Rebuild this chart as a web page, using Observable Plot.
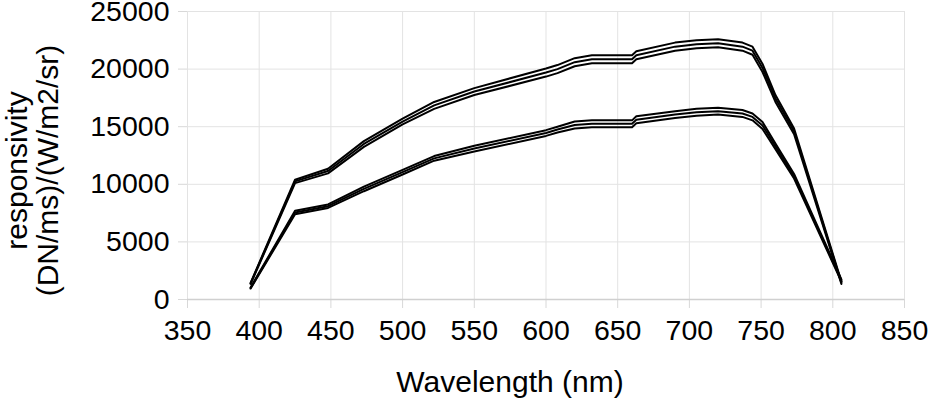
<!DOCTYPE html>
<html>
<head>
<meta charset="utf-8">
<script src="https://cdn.jsdelivr.net/npm/d3@7"></script>
<script src="https://cdn.jsdelivr.net/npm/@observablehq/plot@0.6"></script>
<style>
  html, body { margin: 0; padding: 0; background: #fff; }
</style>
</head>
<body>
<div id="chart"></div>
<script>
const xTicks = [350, 400, 450, 500, 550, 600, 650, 700, 750, 800, 850];
const yTicks = [0, 5000, 10000, 15000, 20000, 25000];

const wavelength = [394, 425, 448, 473, 500, 522, 550, 600, 608, 620, 632, 660, 663, 690, 705, 720, 737, 744, 751, 760, 773, 806];

const upperTop    = [1450, 10400, 11350, 13750, 15700, 17150, 18350, 20050, 20350, 20950, 21200, 21200, 21550, 22300, 22500, 22600, 22300, 21950, 20450, 17750, 14850, 1550];
const upperMid    = [1400, 10250, 11150, 13500, 15450, 16850, 18050, 19700, 20000, 20600, 20850, 20850, 21200, 21950, 22150, 22250, 21950, 21600, 20100, 17450, 14600, 1450];
const upperBottom = [1350, 10100, 10950, 13250, 15200, 16550, 17750, 19350, 19650, 20250, 20500, 20500, 20850, 21600, 21800, 21900, 21600, 21250, 19750, 17150, 14350, 1350];

const lowerTop    = [1050, 7700, 8250, 9800, 11250, 12450, 13350, 14700, 15000, 15450, 15550, 15550, 15900, 16350, 16550, 16650, 16450, 16150, 15400, 13550, 10900, 1750];
const lowerMid    = [1000, 7550, 8100, 9600, 11050, 12250, 13100, 14450, 14750, 15150, 15250, 15250, 15600, 16050, 16250, 16350, 16150, 15850, 15100, 13300, 10700, 1650];
const lowerBottom = [950, 7400, 7950, 9400, 10850, 12050, 12850, 14200, 14500, 14850, 14950, 14950, 15300, 15750, 15950, 16050, 15850, 15550, 14800, 13050, 10500, 1550];

const seriesList = [
  ["upperTop", upperTop], ["upperMid", upperMid], ["upperBottom", upperBottom],
  ["lowerTop", lowerTop], ["lowerMid", lowerMid], ["lowerBottom", lowerBottom]
];
const rows = seriesList.flatMap(([name, vals]) => wavelength.map((w, i) => ({series: name, wl: w, v: vals[i]})));

const FS = 28.5;
const TS = 30;
const chart = Plot.plot({
  width: 929,
  height: 401,
  marginLeft: 187,
  marginRight: 25,
  marginTop: 11,
  marginBottom: 102,
  style: {fontFamily: "'Liberation Sans', Arial, sans-serif", fontSize: FS + "px", color: "#000", background: "#fff"},
  x: {domain: [350, 850]},
  y: {domain: [0, 25000]},
  marks: [
    Plot.gridX(xTicks, {stroke: "#e3e3e3", strokeOpacity: 1, strokeWidth: 1}),
    Plot.gridY(yTicks, {stroke: "#e3e3e3", strokeOpacity: 1, strokeWidth: 1}),
    Plot.axisX(xTicks, {tickSize: 9, tickPadding: 11, stroke: "#d8d8d8", fontSize: FS, label: null, tickFormat: d => String(d)}),
    Plot.axisY(yTicks, {tickSize: 9, tickPadding: 9, stroke: "#d8d8d8", fontSize: FS, label: null, tickFormat: d => String(d)}),
    Plot.ruleY([0], {stroke: "#d0d0d0", strokeWidth: 1.5}),
    Plot.line(rows, {x: "wl", y: "v", z: "series", stroke: "#000", strokeWidth: 2, strokeLinejoin: "round"}),
    Plot.text(["Wavelength (nm)"], {frameAnchor: "bottom", dx: -36, dy: 83, fontSize: TS, lineAnchor: "middle", fill: "#000"}),
    Plot.text(["responsivity\n(DN/ms)/(W/m2/sr)"], {frameAnchor: "left", rotate: -90, dx: -155, dy: 15, fontSize: TS, lineHeight: 1.04, textAnchor: "middle", lineAnchor: "middle", fill: "#000"})
  ]
});
document.getElementById("chart").appendChild(chart);
</script>
</body>
</html>
